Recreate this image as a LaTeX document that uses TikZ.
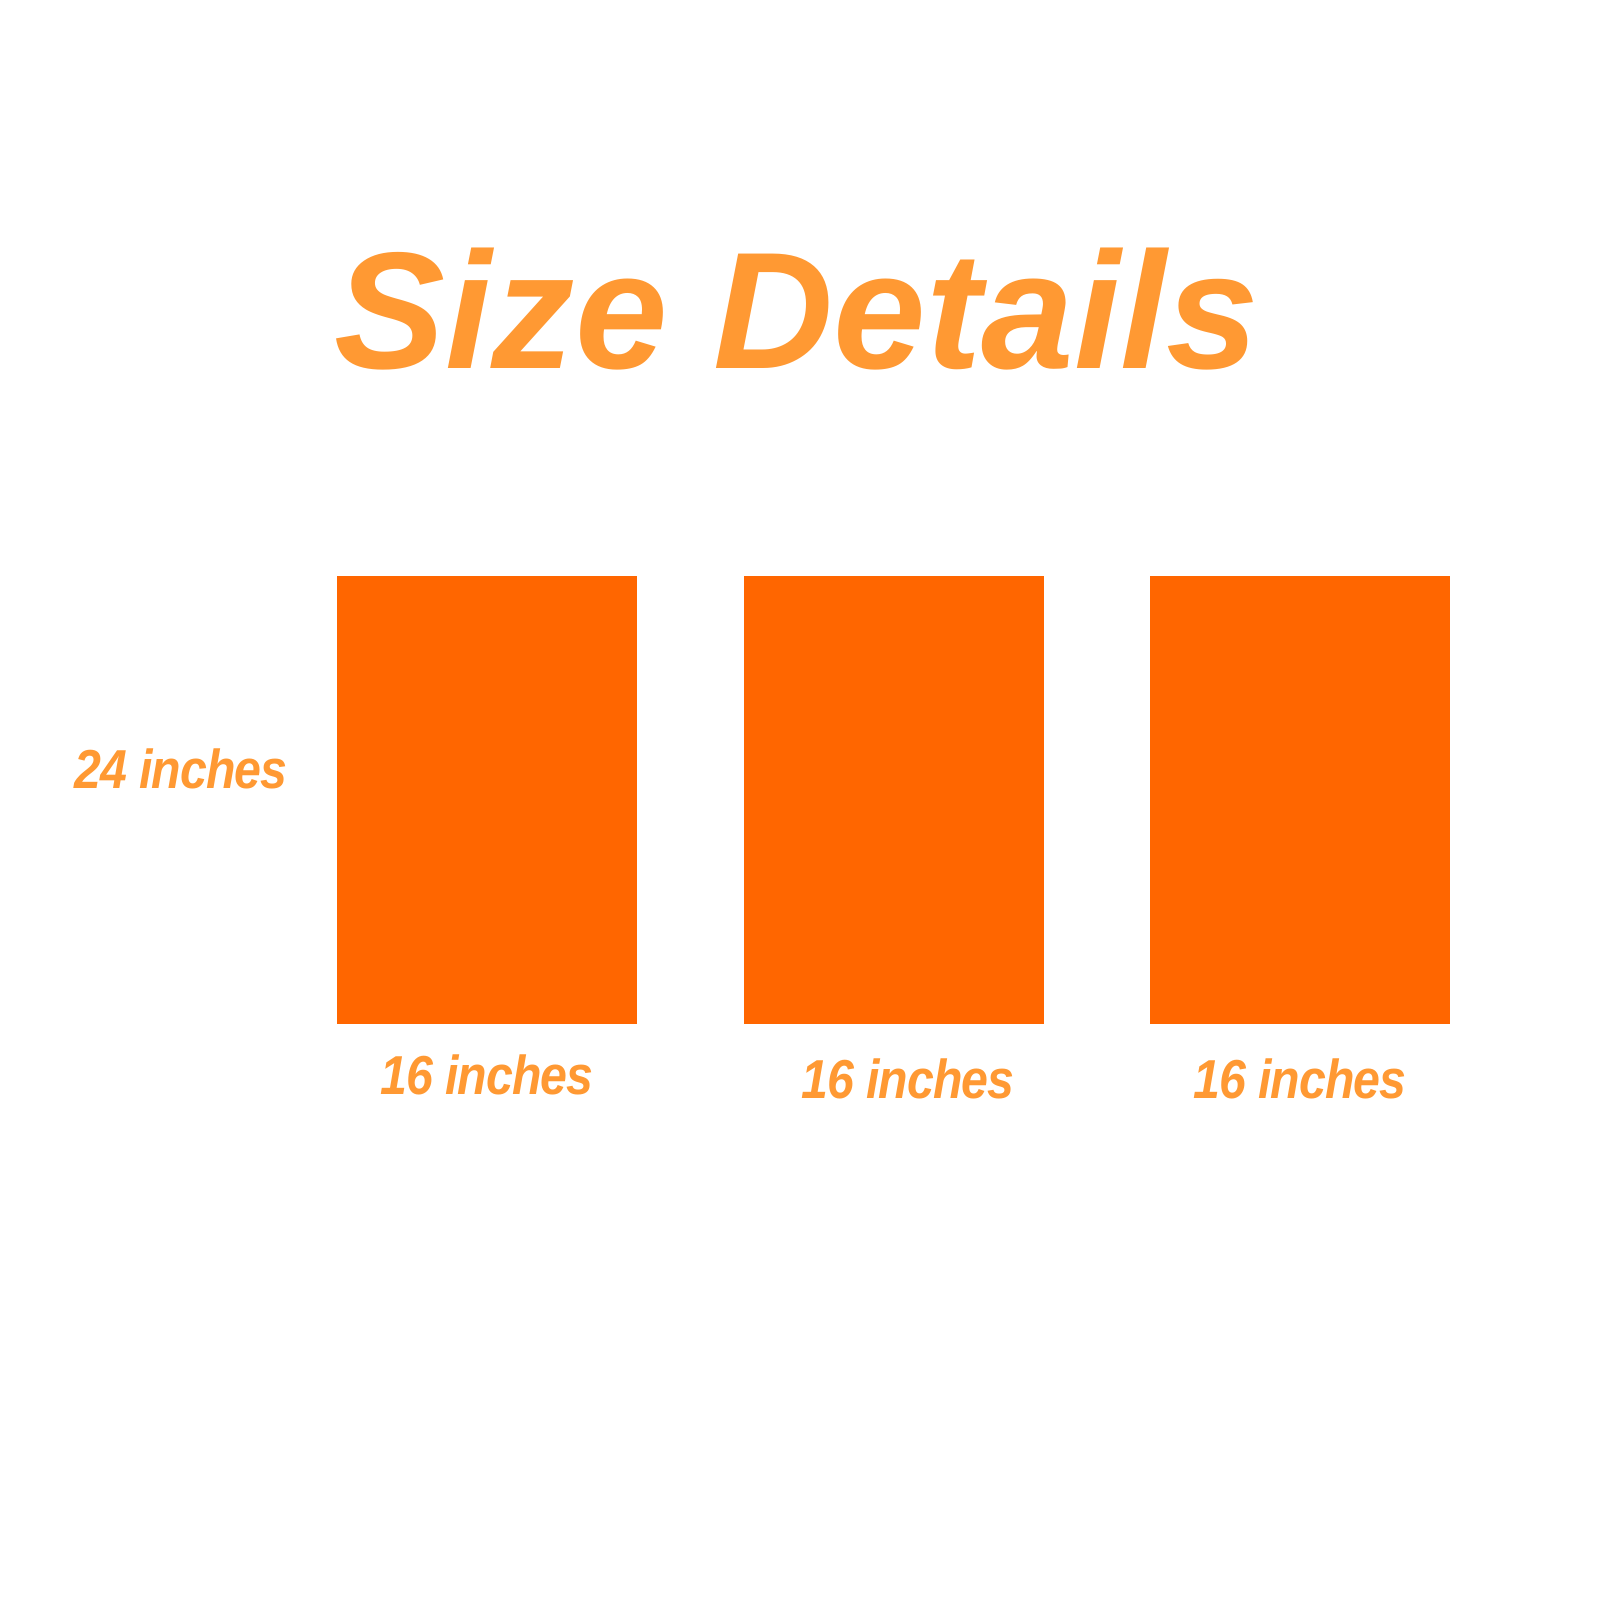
\documentclass[tikz,border=0pt]{standalone}
\usepackage{fontspec}
\setmainfont{Liberation Sans}
\definecolor{txtorange}{HTML}{FF9933}
\definecolor{boxorange}{HTML}{FF6600}
\tikzset{
  panel/.style={fill=boxorange, draw=none, inner sep=0pt, minimum width=3cm, minimum height=4.48cm},
  lbl/.style={text=txtorange, inner sep=0pt, anchor=base, font=\fontsize{15.6pt}{19pt}\selectfont\bfseries\itshape\addfontfeature{LetterSpace=-2}},
  ttl/.style={text=txtorange, inner sep=0pt, anchor=base, font=\fontsize{47.3pt}{56pt}\selectfont\bfseries\itshape}
}
\newcommand{\squeeze}[1]{\scalebox{0.88}[1]{#1}}
\begin{document}
\begin{tikzpicture}[x=0.01cm,y=-0.01cm]
\useasboundingbox[fill=white] (0,0) rectangle (1600,1600);
\node[ttl] (title) at (797,368) {Size Details};
\node[panel] (p1) at (487,800) {};
\node[panel] (p2) at (894,800) {};
\node[panel] (p3) at (1300,800) {};
\node[lbl] (h) at (181,788) {\squeeze{24 inches}};
\node[lbl] (w1) at (487,1094) {\squeeze{16 inches}};
\node[lbl] (w2) at (908,1098) {\squeeze{16 inches}};
\node[lbl] (w3) at (1300,1098) {\squeeze{16 inches}};
\end{tikzpicture}
\end{document}
